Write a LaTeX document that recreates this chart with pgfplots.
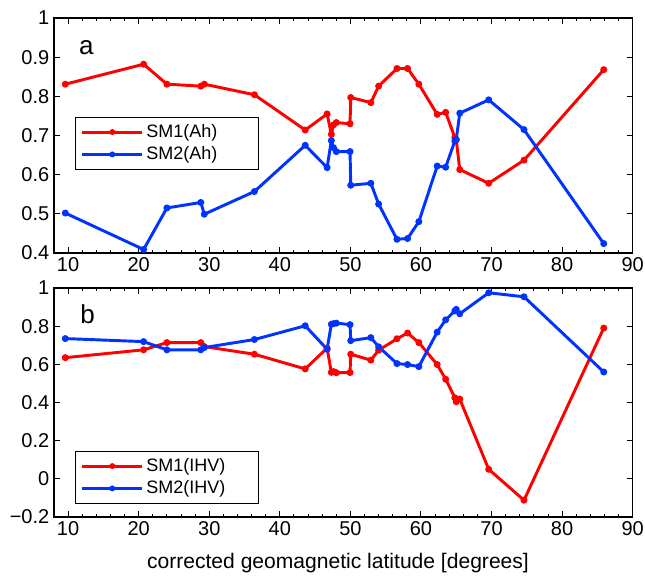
\documentclass[border=0pt]{standalone}
\usepackage{fontspec}
\setmainfont{Liberation Sans}
\usepackage{pgfplots}
\pgfplotsset{compat=1.18}
\usepackage{pgfplotstable}
\definecolor{mred}{RGB}{255,0,0}
\definecolor{mblue}{RGB}{0,51,255}

\pgfplotstableread{
x sma smb
9.6 0.831 0.502
20.7 0.882 0.409
24.0 0.831 0.515
28.8 0.826 0.529
29.3 0.831 0.499
36.4 0.804 0.557
43.6 0.714 0.675
46.7 0.755 0.618
47.3 0.703 0.687
47.6 0.727 0.669
48.0 0.733 0.659
49.95 0.730 0.659
50.05 0.797 0.573
52.9 0.784 0.578
54.0 0.826 0.525
56.6 0.871 0.435
58.1 0.871 0.437
59.7 0.831 0.480
62.3 0.754 0.622
63.5 0.759 0.619
64.8 0.695 0.686
65.0 0.689 0.690
65.5 0.613 0.757
69.6 0.578 0.791
74.6 0.637 0.715
85.9 0.868 0.424
}\ahdata

\pgfplotstableread{
x sma smb
9.6 0.635 0.735
20.7 0.676 0.719
24.0 0.714 0.676
28.8 0.714 0.676
29.3 0.693 0.688
36.4 0.653 0.730
43.6 0.576 0.802
46.7 0.685 0.679
47.3 0.558 0.810
47.6 0.562 0.813
48.0 0.556 0.816
49.95 0.557 0.808
50.05 0.653 0.724
52.9 0.622 0.740
54.0 0.674 0.692
56.6 0.734 0.604
58.1 0.764 0.599
59.7 0.714 0.588
62.3 0.599 0.769
63.5 0.522 0.833
64.8 0.425 0.880
65.0 0.404 0.888
65.5 0.418 0.865
69.6 0.050 0.975
74.6 -0.112 0.954
85.9 0.790 0.560
}\ihvdata

\pgfplotsset{
  mystyle/.style={
    scale only axis, width=434pt, xmin=8, xmax=90,
    xtick={10,20,...,90}, minor x tick num=4,
    tick align=inside, major tick length=4.5pt, minor tick length=2.5pt,
    axis line style={line width=0.9pt},
    every tick/.style={black, line width=0.7pt},
    tick label style={font=\fontsize{15}{18}\selectfont},
    /pgf/number format/assume math mode=true,
    legend cell align=left,
    legend style={draw=black, line width=0.75pt, fill=white,
      font=\fontsize{13.5}{16}\selectfont, anchor=north west,
      inner xsep=4pt, inner ysep=3.5pt, row sep=1.5pt},
    legend image code/.code={\draw[#1, mark repeat=2, mark phase=2, mark size=1.7pt]
      plot coordinates {(0pt,0pt) (22.5pt,0pt) (45pt,0pt)};},
    every axis plot/.append style={line width=2.2pt, mark=*, mark size=2.1pt,
      mark options={line width=1pt}},
  }
}

\begin{document}
\begin{tikzpicture}
\path[use as bounding box] (0,0) rectangle (483.75pt,431.25pt);
\begin{axis}[mystyle, at={(40.5pt,241.5pt)}, anchor=south west, height=176.25pt,
  ymin=0.4, ymax=1, ytick={0.4,0.5,0.6,0.7,0.8,0.9,1},
  yticklabels={0.4,0.5,0.6,0.7,0.8,0.9,1},
  legend style={at={(0.0363,0.58)}}]
\addplot[color=mred] table[x=x, y=sma] {\ahdata};
\addlegendentry{\makebox[78pt][l]{SM1(Ah)}}
\addplot[color=mblue] table[x=x, y=smb] {\ahdata};
\addlegendentry{\makebox[78pt][l]{SM2(Ah)}}
\node[anchor=base west, inner sep=0pt, font=\fontsize{19.5}{20}\selectfont] at (rel axis cs:0.043,0.843) {a};
\end{axis}
\begin{axis}[mystyle, at={(40.5pt,43.5pt)}, anchor=south west, height=171.75pt,
  ymin=-0.2, ymax=1, ytick={-0.2,0,0.2,0.4,0.6,0.8,1},
  yticklabels={−0.2,0,0.2,0.4,0.6,0.8,1},
  xlabel={corrected geomagnetic latitude [degrees]},
  xlabel style={font=\fontsize{15.8}{18}\selectfont, yshift=-6pt, xshift=-4pt},
  legend style={at={(0.0363,0.2895)}}]
\addplot[color=mred] table[x=x, y=sma] {\ihvdata};
\addlegendentry{\makebox[78pt][l]{SM1(IHV)}}
\addplot[color=mblue] table[x=x, y=smb] {\ihvdata};
\addlegendentry{\makebox[78pt][l]{SM2(IHV)}}
\node[anchor=base west, inner sep=0pt, font=\fontsize{19.5}{20}\selectfont] at (rel axis cs:0.045,0.843) {b};
\end{axis}
\end{tikzpicture}
\end{document}
